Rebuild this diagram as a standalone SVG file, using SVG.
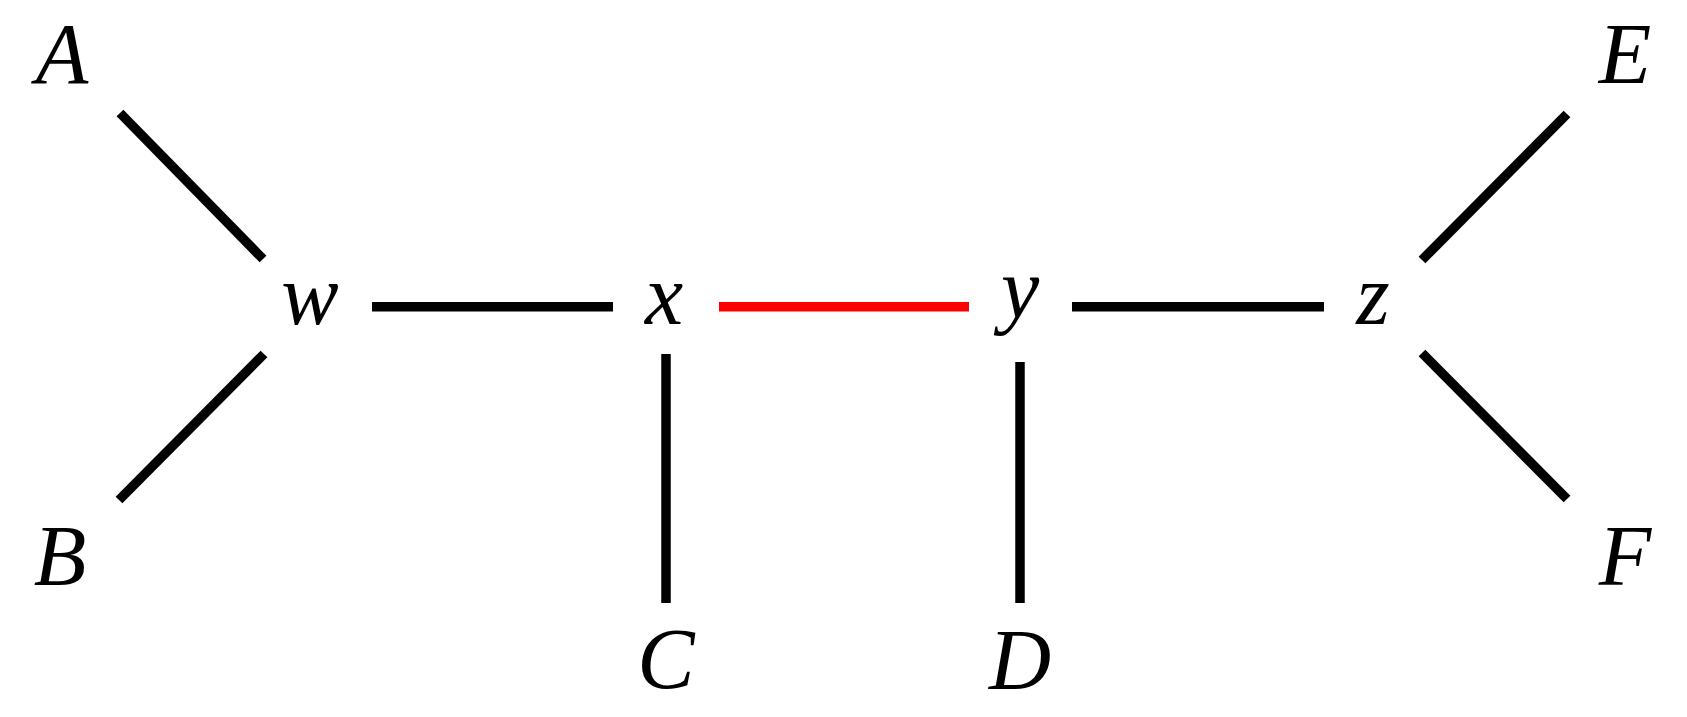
<svg xmlns="http://www.w3.org/2000/svg" width="1687" height="717" viewBox="0 0 1687 717">
<style>
.lbl{font-family:"Liberation Serif","Times New Roman",serif;font-style:italic;font-size:86px;fill:#000;text-anchor:middle}
.e{stroke:#000;stroke-width:9.5;stroke-linecap:butt;fill:none}
.red{stroke:#ff0000}
</style>
<rect width="1687" height="717" fill="#fff"/>
<g id="connectors">
<line class="e" x1="120" y1="113" x2="263" y2="259"/>
<line class="e" x1="264" y1="354" x2="119" y2="500"/>
<line class="e" x1="372" y1="306.7" x2="613" y2="306.7"/>
<line class="e red" x1="719" y1="306.7" x2="969" y2="306.7"/>
<line class="e" x1="1072" y1="306.7" x2="1324" y2="306.7"/>
<line class="e" x1="666" y1="354" x2="666" y2="603"/>
<line class="e" x1="1020" y1="362" x2="1020" y2="603"/>
<line class="e" x1="1567" y1="114" x2="1422" y2="260"/>
<line class="e" x1="1422" y1="353" x2="1567" y2="499"/>
</g>
<g id="node-A"><text class="lbl" x="62" y="83">A</text></g>
<g id="node-B"><text class="lbl" x="60" y="585">B</text></g>
<g id="node-w"><text class="lbl" x="310" y="324">w</text></g>
<g id="node-x"><text class="lbl" x="664" y="324">x</text></g>
<g id="node-y"><text class="lbl" x="1020" y="317">y</text></g>
<g id="node-z"><text class="lbl" x="1373" y="324">z</text></g>
<g id="node-C"><text class="lbl" x="666" y="688">C</text></g>
<g id="node-D"><text class="lbl" x="1020" y="689">D</text></g>
<g id="node-E"><text class="lbl" x="1625" y="83">E</text></g>
<g id="node-F"><text class="lbl" x="1625" y="585">F</text></g>
</svg>
